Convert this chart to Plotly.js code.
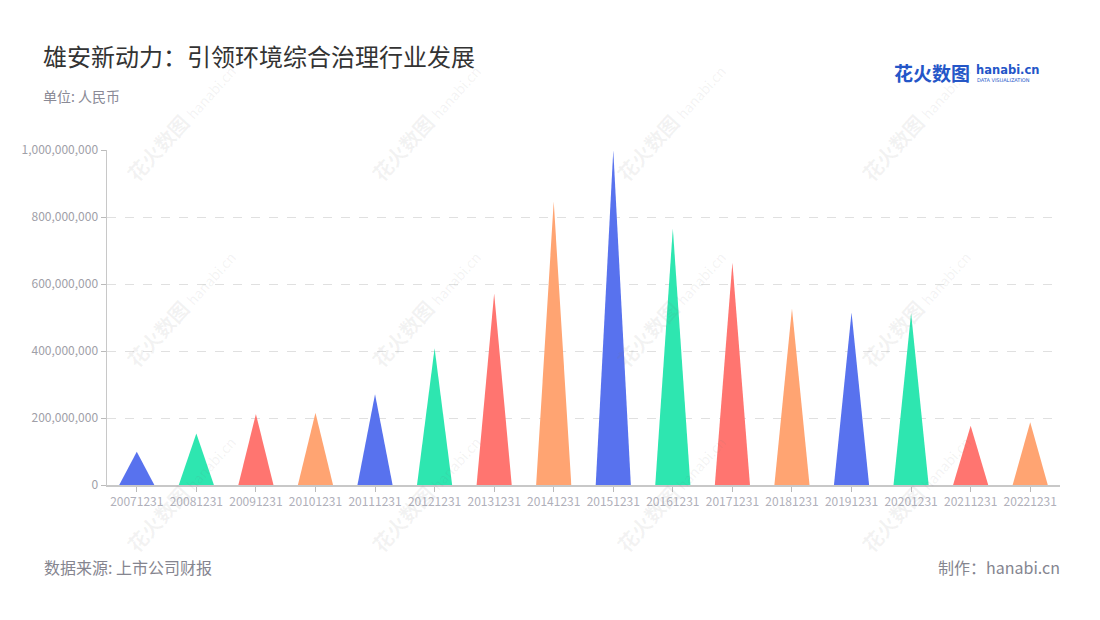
<!DOCTYPE html>
<html>
<head>
<meta charset="utf-8">
<script src="https://cdn.plot.ly/plotly-3.0.1.min.js"></script>
<style>
html,body{margin:0;padding:0;background:#fff;}
#chart{width:1100px;height:620px;}
</style>
</head>
<body>
<div id="chart"></div>
<script>
// ---- data ----
const categories = ["20071231","20081231","20091231","20101231","20111231","20121231","20131231","20141231","20151231","20161231","20171231","20181231","20191231","20201231","20211231","20221231"];
const values = [99000000,154000000,212000000,216000000,271000000,408000000,572000000,846000000,999000000,766000000,664000000,527000000,515000000,513000000,177000000,187000000];
const palette = ["#5872EE","#2EE6B0","#FF7570","#FFA472"];
const yTicks = [0,200000000,400000000,600000000,800000000,1000000000];

// ---- layout constants ----
const W = 1100, H = 620;
const M = {l:107, r:40, t:150, b:135};
const PW = W - M.l - M.r, PH = H - M.t - M.b;
const px = x => (x - M.l) / PW;
const py = y => (H - M.b - y) / PH;
const FONT = "Noto Sans CJK SC, Noto Sans, sans-serif";
const halfW = 0.295;

const traces = categories.map((c, i) => ({
  type: "scatter",
  mode: "lines",
  x: [i - halfW, i, i + halfW, i - halfW],
  y: [0, values[i], 0, 0],
  fill: "toself",
  fillcolor: palette[i % palette.length],
  line: {width: 0, color: palette[i % palette.length]},
  hoverinfo: "text",
  text: c + ": " + values[i].toLocaleString(),
  showlegend: false
}));

const annotations = [
  {text: "雄安新动力：引领环境综合治理行业发展", x: px(41), y: py(55), xanchor: "left", yanchor: "middle",
   font: {size: 24, color: "#333333", family: FONT}},
  {text: "单位: 人民币", x: px(41), y: py(96), xanchor: "left", yanchor: "middle",
   font: {size: 14, color: "#8a8a96", family: FONT}},
  {text: "数据来源: 上市公司财报", x: px(42), y: py(567), xanchor: "left", yanchor: "middle",
   font: {size: 16, color: "#85858f", family: FONT}},
  {text: "制作：hanabi.cn", x: px(1062), y: py(567), xanchor: "right", yanchor: "middle",
   font: {size: 16, color: "#85858f", family: FONT}},
  {text: "<b>花火数图</b>", x: px(892), y: py(73), xanchor: "left", yanchor: "middle",
   font: {size: 19, color: "#2456c8", family: FONT}},
  {text: "<b>hanabi.cn</b>", x: px(974), y: py(70), xanchor: "left", yanchor: "middle",
   font: {size: 11.5, color: "#2456c8", family: "DejaVu Sans, sans-serif"}},
  {text: "DATA VISUALIZATION", x: px(975), y: py(80), xanchor: "left", yanchor: "middle",
   font: {size: 5, color: "#2456c8", family: "DejaVu Sans, sans-serif"}}
];

// faint watermarks
const wmCols = [180, 425, 670, 915];
const wmRows = [122, 308, 493];
wmRows.forEach(ry => wmCols.forEach(cx => {
  annotations.push({text: "<b>花火数图</b> <span style='font-size:14px'>hanabi.cn</span>", x: px(cx), y: py(ry), xanchor: "center", yanchor: "middle",
    textangle: -48, font: {size: 20, color: "rgba(120,120,120,0.09)", family: FONT}});
}));
annotations.forEach(a => { a.xref = "paper"; a.yref = "paper"; a.showarrow = false; });

const layout = {
  width: W, height: H,
  margin: M,
  paper_bgcolor: "#ffffff",
  plot_bgcolor: "#ffffff",
  font: {family: FONT},
  showlegend: false,
  xaxis: {
    range: [-0.5, categories.length - 0.5],
    tickmode: "array",
    tickvals: categories.map((c, i) => i),
    ticktext: categories,
    ticks: "outside", ticklen: 5, tickcolor: "#bbbbbb", tickwidth: 1,
    showgrid: false, zeroline: false,
    showline: true, linecolor: "#c8c8c8", linewidth: 1.5,
    tickfont: {size: 12, color: "#b0b0ba", family: FONT},
    fixedrange: true
  },
  yaxis: {
    range: [0, 1000000000],
    tickmode: "array",
    tickvals: yTicks,
    tickformat: ",d",
    ticks: "outside", ticklen: 5, tickcolor: "#bbbbbb", tickwidth: 1,
    showgrid: true, gridcolor: "#e0e0e0", gridwidth: 1, griddash: "dash",
    zeroline: false,
    showline: true, linecolor: "#c8c8c8", linewidth: 1.5,
    tickfont: {size: 12, color: "#a0a0a8", family: FONT},
    fixedrange: true
  },
  annotations: annotations
};

Plotly.newPlot("chart", traces, layout, {displayModeBar: false, staticPlot: true});
</script>
</body>
</html>
